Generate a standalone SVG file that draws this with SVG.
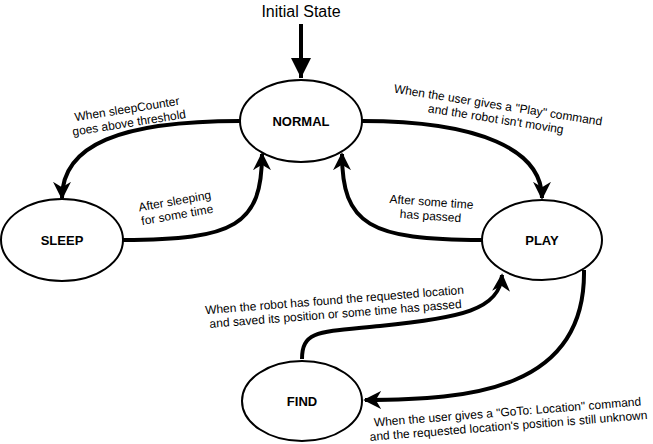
<svg xmlns="http://www.w3.org/2000/svg" width="653" height="444" viewBox="0 0 653 444">
<style>
.node ellipse{fill:#fff;stroke:#000;stroke-width:2}
.node text{font-family:"Liberation Sans",Arial,sans-serif;font-weight:bold;font-size:13px;text-anchor:middle;dominant-baseline:central}
.edge{fill:none;stroke:#000;stroke-width:4}
.lbl{font-family:"Liberation Sans",Arial,sans-serif;font-size:12px;text-anchor:middle}
</style>
<defs>
<marker id="ah" viewBox="0 0 10 10" refX="9" refY="5" markerWidth="4.5" markerHeight="4.5" orient="auto" markerUnits="strokeWidth">
<path d="M0,0 L10,5 L0,10 L3,5 Z" fill="#000"/>
</marker>
<marker id="ai" viewBox="0 0 10 10" refX="10" refY="5" markerWidth="5" markerHeight="5" orient="auto" markerUnits="strokeWidth">
<path d="M0,0 L10,5 L0,10 Z" fill="#000"/>
</marker>
</defs>
<rect width="653" height="444" fill="#fff"/>
<text x="301" y="17" font-family="Liberation Sans,Arial,sans-serif" font-size="16" text-anchor="middle">Initial State</text>
<g id="connectors">
<path class="edge" d="M301,24 L301,78" marker-end="url(#ai)"/>
<path class="edge" d="M240,121 C120,121 62,145 62,198" marker-end="url(#ah)"/>
<path class="edge" d="M123,240 C235,240 262,225 262,154" marker-end="url(#ah)"/>
<path class="edge" d="M362,121 C480,121 542,150 542,198" marker-end="url(#ah)"/>
<path class="edge" d="M482,240 C370,240 342,225 342,154" marker-end="url(#ah)"/>
<path class="edge" d="M302,359 C302,330 320,332 380,326 C460,318 500,310 502,275" marker-end="url(#ah)"/>
<path class="edge" d="M584,270 C586,390 470,400 365,400" marker-end="url(#ah)"/>
</g>
<g id="labels">
<g transform="translate(128,116) rotate(-9)"><text class="lbl"><tspan x="0" y="-3">When sleepCounter</tspan><tspan x="0" y="11">goes above threshold</tspan></text></g>
<g transform="translate(176,208) rotate(-10)"><text class="lbl"><tspan x="0" y="-3">After sleeping</tspan><tspan x="0" y="11">for some time</tspan></text></g>
<g transform="translate(497,112) rotate(9)"><text class="lbl"><tspan x="0" y="-3">When the user gives a "Play" command</tspan><tspan x="0" y="11">and the robot isn't moving</tspan></text></g>
<g transform="translate(431,209) rotate(4)"><text class="lbl"><tspan x="0" y="-3">After some time</tspan><tspan x="0" y="11">has passed</tspan></text></g>
<g transform="translate(335,307) rotate(-4.5)"><text class="lbl"><tspan x="0" y="-3">When the robot has found the requested location</tspan><tspan x="0" y="11">and saved its position or some time has passed</tspan></text></g>
<g transform="translate(508,419) rotate(-4.5)"><text class="lbl"><tspan x="0" y="-3">When the user gives a "GoTo: Location" command</tspan><tspan x="0" y="11">and the requested location's position is still unknown</tspan></text></g>
</g>
<g id="NORMAL" class="node"><ellipse cx="301" cy="121" rx="61" ry="41"/><text x="301" y="121">NORMAL</text></g>
<g id="SLEEP" class="node"><ellipse cx="62" cy="240" rx="61" ry="41"/><text x="62" y="240">SLEEP</text></g>
<g id="PLAY" class="node"><ellipse cx="542" cy="240" rx="60" ry="40"/><text x="542" y="240">PLAY</text></g>
<g id="FIND" class="node"><ellipse cx="302" cy="401" rx="60" ry="40"/><text x="302" y="401">FIND</text></g>
</svg>
